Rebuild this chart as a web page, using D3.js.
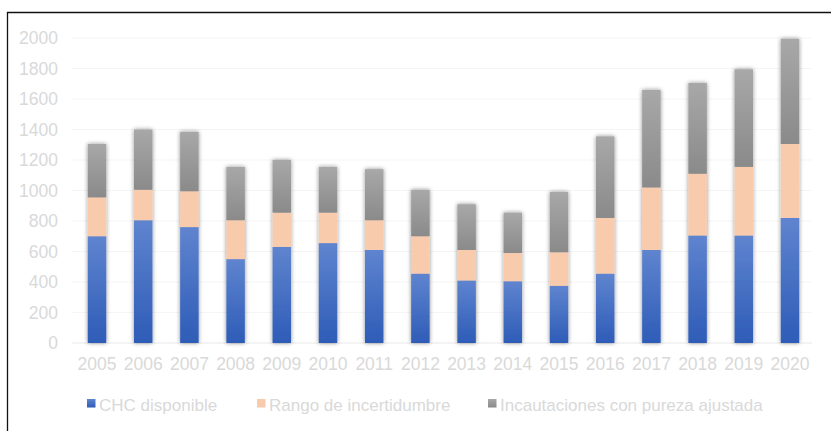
<!DOCTYPE html>
<html>
<head>
<meta charset="utf-8">
<script src="https://cdn.jsdelivr.net/npm/d3@7"></script>
<style>
  html, body { margin: 0; padding: 0; background: #fff; }
  svg { display: block; }
  text { font-family: "Liberation Sans", Arial, sans-serif; }
</style>
</head>
<body>
<svg id="chart" width="831" height="431"></svg>
<script>
// Years on the category axis
const years = ["2005","2006","2007","2008","2009","2010","2011","2012",
               "2013","2014","2015","2016","2017","2018","2019","2020"];
// Available cocaine hydrochloride (CHC)
const chcDisponible = [700, 805, 760, 550, 630, 655, 610, 455, 410, 405, 375, 455, 610, 705, 705, 820];
// Uncertainty range stacked above
const rangoIncertidumbre = [255, 200, 235, 255, 225, 200, 195, 245, 200, 185, 220, 365, 410, 405, 450, 485];
// Purity-adjusted seizures stacked on top
const incautaciones = [350, 395, 390, 350, 345, 300, 335, 305, 300, 265, 395, 535, 640, 595, 640, 690];
// Value axis ticks
const yTicks = [0, 200, 400, 600, 800, 1000, 1200, 1400, 1600, 1800, 2000];

const seriesNames = ["CHC disponible", "Rango de incertidumbre", "Incautaciones con pureza ajustada"];
const seriesKeys = ["chc", "rango", "inc"];

const rows = years.map((y, i) => ({
  year: y, chc: chcDisponible[i], rango: rangoIncertidumbre[i], inc: incautaciones[i]
}));

const svg = d3.select("#chart");
const defs = svg.append("defs");

// Vertical gradients per segment
function vGrad(id, top, bottom) {
  const g = defs.append("linearGradient").attr("id", id)
    .attr("x1", 0).attr("y1", 0).attr("x2", 0).attr("y2", 1);
  g.append("stop").attr("offset", "0%").attr("stop-color", top);
  g.append("stop").attr("offset", "100%").attr("stop-color", bottom);
}
vGrad("gBlue", "#5f84cf", "#2e5cb7");
vGrad("gOrange", "#f8cbad", "#f8cbad");
vGrad("gGray", "#a8a8a8", "#8a8a8a");
const fills = { chc: "url(#gBlue)", rango: "url(#gOrange)", inc: "url(#gGray)" };

// Soft glow around each bar
const f = defs.append("filter").attr("id", "glow")
  .attr("x", "-60%").attr("y", "-10%").attr("width", "220%").attr("height", "120%");
f.append("feDropShadow").attr("dx", 0).attr("dy", 0)
  .attr("stdDeviation", 2.2).attr("flood-color", "#000").attr("flood-opacity", 0.45);

// Frame lines (top and left)
svg.append("line").attr("x1", 7).attr("x2", 831).attr("y1", 12.5).attr("y2", 12.5)
  .attr("stroke", "#111").attr("stroke-width", 1.3);
svg.append("line").attr("x1", 7.5).attr("x2", 7.5).attr("y1", 12).attr("y2", 431)
  .attr("stroke", "#111").attr("stroke-width", 1.3);

const x = d3.scaleBand().domain(years).range([73.9, 813.1]).paddingInner(0.6).paddingOuter(0.3);
const y = d3.scaleLinear().domain([0, 2000]).range([343, 38]);

// Gridlines
svg.append("g").selectAll("line").data(yTicks).join("line")
  .attr("x1", 72).attr("x2", 812)
  .attr("y1", d => y(d)).attr("y2", d => y(d))
  .attr("stroke", d => d === 0 ? "#e8e8e8" : "#f5f5f5").attr("stroke-width", 1);

// Y axis labels
const yAxis = d3.axisLeft(y).tickValues(yTicks).tickFormat(d3.format("d")).tickSize(0).tickPadding(0);
const gy = svg.append("g").attr("transform", "translate(58,0)").call(yAxis);
gy.select(".domain").remove();
gy.selectAll("text").attr("font-size", 17.5).attr("fill", "#d9d9d9")
  .attr("font-family", "Liberation Sans, Arial, sans-serif");

// X axis labels
const xAxis = d3.axisBottom(x).tickSize(0).tickPadding(0);
const gx = svg.append("g").attr("transform", "translate(0,358)").call(xAxis);
gx.select(".domain").remove();
gx.selectAll("text").attr("font-size", 17.5).attr("fill", "#d9d9d9")
  .attr("font-family", "Liberation Sans, Arial, sans-serif");

// Stacked bars
const stack = d3.stack().keys(seriesKeys)(rows);
const bars = svg.append("g").attr("filter", "url(#glow)");
stack.forEach(layer => {
  bars.append("g").selectAll("rect").data(layer).join("rect")
    .attr("x", d => x(d.data.year))
    .attr("width", x.bandwidth())
    .attr("y", d => y(d[1]))
    .attr("height", d => y(d[0]) - y(d[1]))
    .attr("fill", fills[layer.key]);
});

// Legend
const legendItems = [
  { key: "chc", x: 87 },
  { key: "rango", x: 257 },
  { key: "inc", x: 488 }
];
const lg = svg.append("g");
legendItems.forEach((it, i) => {
  lg.append("rect").attr("x", it.x).attr("y", 399).attr("width", 8.5).attr("height", 8.5)
    .attr("fill", fills[it.key]);
  lg.append("text").attr("x", it.x + 12).attr("y", 411)
    .attr("font-size", 17).attr("fill", "#d9d9d9")
    .text(seriesNames[i]);
});
</script>
</body>
</html>
